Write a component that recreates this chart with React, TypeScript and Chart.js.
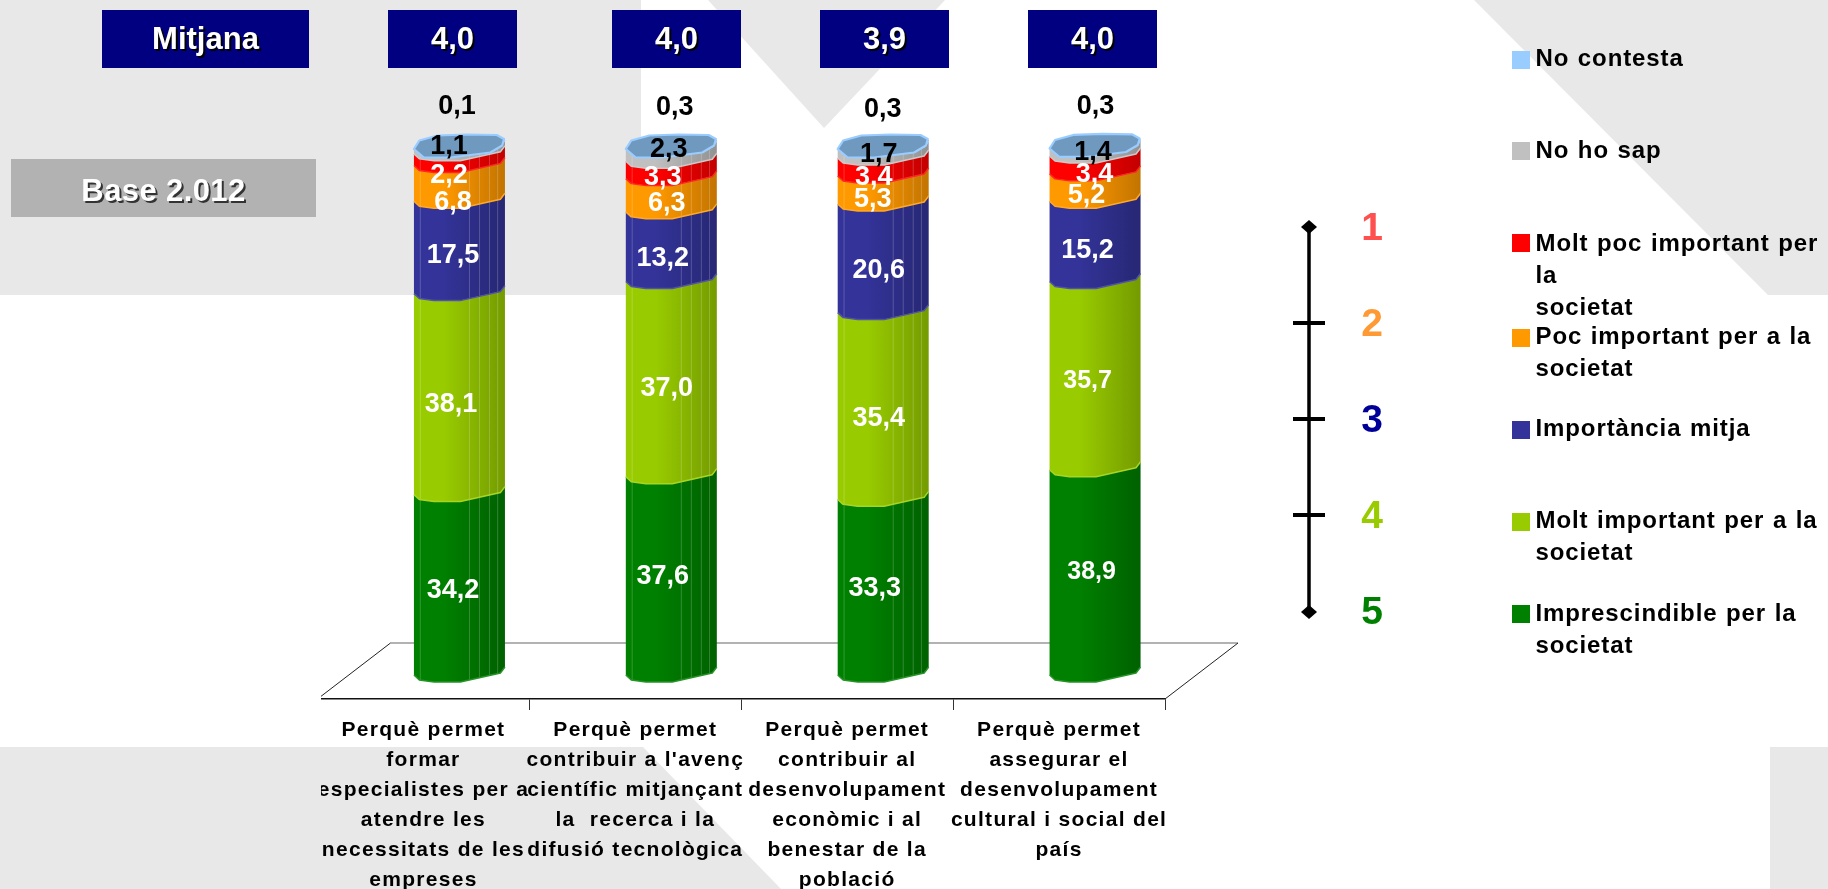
import React, { useEffect, useRef } from "react";
import { Chart, registerables } from "chart.js";

Chart.register(...registerables);

const categories: string[][] = [
  ["Perquè permet", "formar", "especialistes per a", "atendre les", "necessitats de les", "empreses"],
  ["Perquè permet", "contribuir a l'avenç", "científic mitjançant", "la  recerca i la", "difusió tecnològica"],
  ["Perquè permet", "contribuir al", "desenvolupament", "econòmic i al", "benestar de la", "població"],
  ["Perquè permet", "assegurar el", "desenvolupament", "cultural i social del", "país"],
];

const imprescindible = [34.2, 37.6, 33.3, 38.9];
const moltImportant = [38.1, 37.0, 35.4, 35.7];
const mitja = [17.5, 13.2, 20.6, 15.2];
const pocImportant = [6.8, 6.3, 5.3, 5.2];
const moltPoc = [2.2, 3.3, 3.4, 3.4];
const noHoSap = [1.1, 2.3, 1.7, 1.4];
const noContesta = [0.1, 0.3, 0.3, 0.3];

const means = ["4,0", "4,0", "3,9", "4,0"];
const meanTitle = "Mitjana";
const baseText = "Base 2.012";
const scaleTexts = ["1", "2", "3", "4", "5"];

const seriesNames: string[][] = [
  ["Imprescindible per la", "societat"],
  ["Molt important per a la", "societat"],
  ["Importància mitja"],
  ["Poc important per a la", "societat"],
  ["Molt poc important per", "la", "societat"],
  ["No ho sap"],
  ["No contesta"],
];
const seriesColors = ["#008000", "#99cc00", "#333399", "#ff9900", "#ff0000", "#c0c0c0", "#99ccff"];

// ---- styling / layout tables (not data) ----
const FONT = '"Liberation Sans", Arial, sans-serif';
const DEPTH_X = 36;
const FRONT: number[][] = [[0, 0], [0.06, 5], [0.22, 7], [0.51, 7], [0.95, -2], [1, -8]];
const FACE: number[][] = [
  [0, 1.5], [0.06, -7], [0.26, -12], [0.58, -13], [0.91, -12.5], [0.99, -8.5],
  [0.97, -2], [0.84, 5], [0.4, 10], [0.11, 10],
];
const SEAMS = [0.07, 0.61, 0.72, 0.83, 0.92];
// label nudges [dx, dy] per series (bottom to top) per bar
const NUDGE: number[][][] = [
  [[-6.5, 5.5], [-8.5, 10.5], [-6.5, 8], [-6.5, 19.5], [-10.5, 15.5], [-10.5, -4.5], [-2.5, -41]],
  [[-8.5, 0.5], [-4.5, 9.5], [-8.5, 11.5], [-4.5, 8.5], [-8.5, 7.5], [-2.5, -5.5], [3.5, -41]],
  [[-8.5, 1.5], [-4.5, 12.5], [-4.5, 12.5], [-10.5, 9.5], [-9.5, 10.5], [-4.5, 0.5], [-0.5, -39]],
  [[-3.5, -0.5], [-7.5, 5.5], [-7.5, 9.5], [-8.5, 7.5], [-0.5, 9.5], [-2, 0.5], [0.5, -41]],
];
const MEAN_BOXES = [[388, 129], [612, 129], [820, 129], [1028, 129]];
const LEGEND_POS: { sw: number; first: number }[] = [
  { sw: 605, first: 614 },
  { sw: 513, first: 521 },
  { sw: 421, first: 429 },
  { sw: 329, first: 337 },
  { sw: 234, first: 244 },
  { sw: 142, first: 151 },
  { sw: 51, first: 59 },
];
const SCALE_COLORS = ["#ff5050", "#ff9933", "#000099", "#99cc00", "#008000"];
const SCALE_Y = [229, 325, 421, 517, 613];

function mix(hex: string, k: number, target = 0): string {
  const n = parseInt(hex.slice(1), 16);
  const f = (c: number) => Math.round(c * k + target * (1 - k));
  return `rgb(${f((n >> 16) & 255)},${f((n >> 8) & 255)},${f(n & 255)})`;
}

function text(ctx: any, s: string, x: number, y: number, font: string, color: string, opts: any = {}) {
  ctx.save();
  ctx.font = font;
  ctx.textBaseline = "middle";
  ctx.textAlign = opts.align || "center";
  ctx.letterSpacing = (opts.ls ?? 0) + "px";
  ctx.wordSpacing = (opts.ws ?? 0) + "px";
  if (opts.shadow) {
    ctx.fillStyle = opts.shadow;
    ctx.fillText(s, x + 2, y + 2);
  }
  ctx.fillStyle = color;
  ctx.fillText(s, x, y);
  ctx.restore();
}

function poly(ctx: any, pts: number[][]) {
  ctx.beginPath();
  pts.forEach((p, i) => (i ? ctx.lineTo(p[0], p[1]) : ctx.moveTo(p[0], p[1])));
  ctx.closePath();
}

const decorPlugin = {
  id: "decor",
  beforeDraw(chart: any) {
    const ctx = chart.ctx;
    ctx.save();
    ctx.fillStyle = "#ffffff";
    ctx.fillRect(0, 0, 1828, 889);
    ctx.fillStyle = "#e8e8e8";
    ctx.fillRect(0, 0, 641, 295);
    poly(ctx, [[708, 0], [824, 128], [945, 0]]);
    ctx.fill();
    poly(ctx, [[1474, 0], [1768, 295], [1828, 295], [1828, 0]]);
    ctx.fill();
    poly(ctx, [[0, 747], [643, 747], [781, 889], [0, 889]]);
    ctx.fill();
    ctx.fillRect(1770, 747, 58, 142);
    ctx.restore();
    // axis labels: clipped at the chart picture's left edge, and wide tracking
    ctx.save();
    ctx.beginPath();
    ctx.rect(321, 0, 1507, 889);
    ctx.clip();
    ctx.letterSpacing = "1.3px";
  },
  beforeDatasetsDraw(chart: any) {
    const ctx = chart.ctx;
    const { x } = chart.scales;
    ctx.restore();
    const bottom = x.top;
    const dx = 73;
    const dy = 56;
    ctx.save();
    ctx.beginPath();
    ctx.rect(321, 0, 1507, 889);
    ctx.clip();
    ctx.lineWidth = 1.2;
    ctx.strokeStyle = "#666666";
    ctx.beginPath();
    ctx.moveTo(x.left + dx, bottom - dy);
    ctx.lineTo(x.right + dx, bottom - dy);
    ctx.stroke();
    ctx.strokeStyle = "#222222";
    ctx.lineWidth = 1;
    ctx.beginPath();
    ctx.moveTo(x.left + dx, bottom - dy);
    ctx.lineTo(x.left, bottom);
    ctx.moveTo(x.right + dx, bottom - dy);
    ctx.lineTo(x.right, bottom);
    ctx.stroke();
    ctx.restore();
  },
  afterDatasetsDraw(chart: any) {
    const ctx = chart.ctx;
    const n = chart.data.datasets.length;
    for (let i = 0; i < chart.data.labels.length; i++) {
      let L = 0;
      let R = 0;
      let topY = 0;
      for (let d = 0; d < n; d++) {
        const el = chart.getDatasetMeta(d).data[i];
        const color = chart.data.datasets[d].segmentColor;
        L = el.x + DEPTH_X - el.width / 2;
        R = el.x + DEPTH_X + el.width / 2;
        topY = el.y;
        const w = R - L;
        const lower = FRONT.map((p) => [L + p[0] * w, el.base + p[1]]);
        const upper = FRONT.map((p) => [L + p[0] * w, el.y + p[1]]);
        const g = ctx.createLinearGradient(L, 0, R, 0);
        g.addColorStop(0, color);
        g.addColorStop(0.32, color);
        g.addColorStop(1, mix(color, 0.76));
        ctx.save();
        poly(ctx, [...upper, ...lower.slice().reverse()]);
        ctx.fillStyle = g;
        ctx.fill();
        ctx.clip();
        if (i < 3) {
          ctx.strokeStyle = "rgba(255,255,255,0.2)";
          ctx.lineWidth = 1;
          ctx.beginPath();
          SEAMS.forEach((f) => {
            ctx.moveTo(L + f * w, el.y - 12);
            ctx.lineTo(L + f * w, el.base + 10);
          });
          ctx.stroke();
        }
        ctx.restore();
        ctx.strokeStyle = mix(color, 0.85, 255);
        ctx.lineWidth = 1.5;
        ctx.beginPath();
        lower.forEach((p, k) => (k ? ctx.lineTo(p[0], p[1]) : ctx.moveTo(p[0], p[1])));
        ctx.stroke();
      }
      const w = R - L;
      poly(ctx, FACE.map((p) => [L + p[0] * w, topY + p[1]]));
      ctx.fillStyle = "#7099c0";
      ctx.fill();
      ctx.strokeStyle = "#99ccff";
      ctx.lineWidth = 2.2;
      ctx.lineJoin = "round";
      ctx.stroke();
    }
    // value labels
    for (let i = 0; i < chart.data.labels.length; i++) {
      for (let d = 0; d < n; d++) {
        const el = chart.getDatasetMeta(d).data[i];
        const v: number = chart.data.datasets[d].data[i];
        const s = v.toFixed(1).replace(".", ",");
        const nudge = NUDGE[i][d];
        const size = i === 3 && d < 2 ? 25 : 27;
        text(
          ctx,
          s,
          el.x + DEPTH_X + nudge[0],
          (el.y + el.base) / 2 + nudge[1],
          `bold ${size}px ${FONT}`,
          d >= 5 ? "#000000" : "#ffffff"
        );
      }
    }
    // boxes
    ctx.fillStyle = "#000080";
    ctx.fillRect(102, 10, 207, 58);
    text(ctx, meanTitle, 205.5, 40, `bold 31px ${FONT}`, "#ffffff", { shadow: "#000000" });
    means.forEach((m, i) => {
      const [bx, bw] = MEAN_BOXES[i];
      ctx.fillStyle = "#000080";
      ctx.fillRect(bx, 10, bw, 58);
      text(ctx, m, bx + bw / 2, 40, `bold 31px ${FONT}`, "#ffffff", { shadow: "#000000" });
    });
    ctx.fillStyle = "#b2b2b2";
    ctx.fillRect(11, 159, 305, 58);
    text(ctx, baseText, 163.5, 192, `bold 31px ${FONT}`, "#ffffff", { ls: 0.4, shadow: "#333333" });

    // importance scale
    ctx.strokeStyle = "#000000";
    ctx.fillStyle = "#000000";
    ctx.lineWidth = 3.5;
    ctx.beginPath();
    ctx.moveTo(1309, 227);
    ctx.lineTo(1309, 612);
    ctx.stroke();
    ctx.lineWidth = 4;
    [323, 419, 515].forEach((y) => {
      ctx.beginPath();
      ctx.moveTo(1293, y);
      ctx.lineTo(1325, y);
      ctx.stroke();
    });
    [227, 612].forEach((y) => {
      poly(ctx, [[1309, y - 7], [1317, y], [1309, y + 7], [1301, y]]);
      ctx.fill();
    });
    scaleTexts.forEach((t, i) => {
      text(ctx, t, 1372, SCALE_Y[i], `bold 39px ${FONT}`, SCALE_COLORS[i]);
    });

    // legend
    chart.data.datasets.forEach((ds: any, d: number) => {
      const pos = LEGEND_POS[d];
      ctx.fillStyle = ds.segmentColor;
      ctx.fillRect(1512, pos.sw, 18, 18);
      (ds.nameLines as string[]).forEach((line, k) => {
        text(ctx, line, 1535.5, pos.first + k * 32.3, `bold 24px ${FONT}`, "#000000", {
          align: "left",
          ls: 0.9,
          ws: 1,
        });
      });
    });
  },
};

export default function App() {
  const ref = useRef<HTMLCanvasElement | null>(null);
  useEffect(() => {
    const values = [imprescindible, moltImportant, mitja, pocImportant, moltPoc, noHoSap, noContesta];
    const chart = new Chart(ref.current as HTMLCanvasElement, {
      type: "bar",
      data: {
        labels: categories as any,
        datasets: values.map((data, i) => ({
          label: seriesNames[i].join(" "),
          data,
          backgroundColor: "rgba(0,0,0,0)",
          borderWidth: 0,
          segmentColor: seriesColors[i],
          nameLines: seriesNames[i],
          barThickness: 91,
        })) as any,
      },
      options: {
        responsive: false,
        animation: false,
        devicePixelRatio: 1,
        layout: { padding: { left: 317.5, right: 663, top: 147.5, bottom: 0 } },
        plugins: { legend: { display: false }, tooltip: { enabled: false }, title: { display: false } },
        scales: {
          x: {
            stacked: true,
            afterFit: (s: any) => {
              s.height = 190;
            },
            grid: { display: true, drawOnChartArea: false, drawTicks: true, tickLength: 11, color: "#333333" },
            border: { display: true, color: "#111111", width: 1.5 },
            ticks: {
              autoSkip: false,
              maxRotation: 0,
              minRotation: 0,
              padding: 5,
              color: "#000000",
              font: { family: FONT, size: 21, weight: "bold", lineHeight: 1.43 },
            },
          },
          y: { stacked: true, display: false, min: -4.55, max: 100 },
        },
      } as any,
      plugins: [decorPlugin as any],
    });
    return () => chart.destroy();
  }, []);
  return (
    <div style={{ position: "absolute", left: 0, top: 0, width: 1828, height: 889, overflow: "hidden", background: "#fff" }}>
      <canvas ref={ref} width={1828} height={889} style={{ display: "block", width: 1828, height: 889 }} />
    </div>
  );
}
